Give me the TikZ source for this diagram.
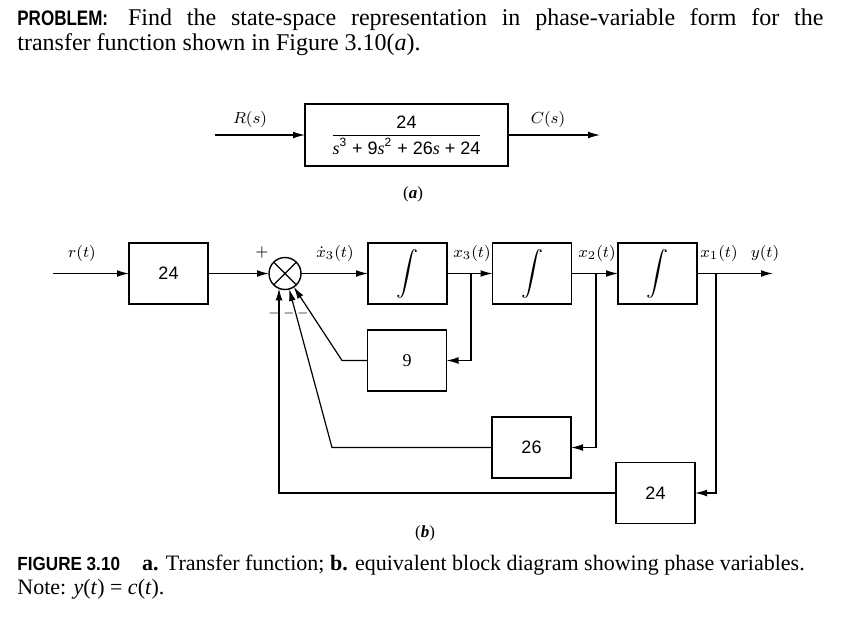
\documentclass[tikz,border=0pt]{standalone}
\usepackage{fontspec}
\usepackage{graphicx}
\setmainfont{Liberation Serif}
\setsansfont{Liberation Sans}
\usetikzlibrary{arrows.meta,positioning,calc}

\tikzset{
  blk/.style={draw,line width=0.9pt,minimum width=39.5pt,minimum height=30.5pt,
    inner sep=0pt,outer sep=0pt,font=\sffamily\fontsize{9}{11}\selectfont},
  lbl/.style={font=\fontsize{8.5}{10}\selectfont,inner sep=0pt},
  sig/.style={line width=0.6pt,-{Latex[length=6pt,width=3.4pt]}},
  line/.style={line width=0.6pt}
}
\newcommand{\intg}{\scalebox{1.1}{$\displaystyle\int$}}
\newcommand{\sv}{{\rmfamily\itshape s}}

\begin{document}
\begin{tikzpicture}[x=0.5pt,y=-0.5pt]
\useasboundingbox (0,0) rectangle (867,616);
% problem text
\node[anchor=base west,inner sep=0pt] (prob) at (17,25) {\parbox[t]{403pt}{\fontsize{12}{12.5}\selectfont
  \scalebox{0.81}[1]{\sffamily\bfseries\fontsize{10.5}{12.5}\selectfont PROBLEM:}\hspace{10pt}Find the state-space
  representation in phase-variable form for the\linebreak transfer function shown in Figure 3.10(\textit{a}).}};

% (a) transfer function
\node[blk,minimum width=101.5pt,minimum height=31pt] (tf) at (406.5,135)
  {\fontsize{9}{11}\selectfont$\displaystyle\frac{\mbox{\sffamily 24}}{\mbox{\sffamily\sv\textsuperscript{3} + 9\sv\textsuperscript{2} + 26\sv{} + 24}}$};
\coordinate (ain) at (215,135);
\coordinate (aout) at (600,135);
\draw[sig] (ain) -- (tf);
\draw[sig] (tf) -- (aout);
\node[lbl] (Rs) at (250,119) {$R(s)$};
\node[lbl] (Cs) at (548,119) {$C(s)$};
\node[lbl] (capa) at (413,194) {(\textbf{\textit{a}})};

% (b) phase variables
\node[blk] (b24) at (168.5,273.5) {24};
\node[circle,draw,line width=0.7pt,minimum size=16pt,inner sep=0pt,outer sep=0pt] (sum) at (285,273.5) {};
\draw[line] (sum.45) -- (sum.225) (sum.135) -- (sum.315);
\node[blk] (int1) at (407.5,273.5) {\intg};
\node[blk] (int2) at (532,273.5) {\intg};
\node[blk] (int3) at (657.5,273.5) {\intg};
\node[blk,font=\fontsize{9}{11}\selectfont] (b9) at (407,360.5) {9};
\node[blk] (b26) at (531.5,447.5) {26};
\node[blk] (b24f) at (655.5,493) {24};

\coordinate (rin) at (53,273.5);
\coordinate (yout) at (773,273.5);
\coordinate (p3) at (471,273.5);
\coordinate (p2) at (596,273.5);
\coordinate (p1) at (716,273.5);
\coordinate (k9) at (342,360.5);
\coordinate (k26) at (332,447.5);

\draw[sig] (rin) -- (b24);
\draw[sig] (b24) -- (sum);
\draw[sig] (sum) -- (int1);
\draw[sig] (int1) -- (int2);
\draw[sig] (int2) -- (int3);
\draw[sig] (int3) -- (yout);
\draw[sig] (p3) |- (b9);
\draw[sig] (p2) |- (b26);
\draw[sig] (p1) |- (b24f);
\draw[sig] (b9) -- (k9) -- (sum);
\draw[sig] (b26) -- (k26) -- (sum);
\draw[sig] (b24f) -| (sum.-112);

\node[lbl] (rt) at (82,253) {$r(t)$};
\node[lbl] (plus) at (262,252) {$+$};
\node[lbl,font=\fontsize{6.5}{8}\selectfont] (m1) at (274,313) {$-$};
\node[lbl,font=\fontsize{6.5}{8}\selectfont] (m2) at (289,313) {$-$};
\node[lbl,font=\fontsize{6.5}{8}\selectfont] (m3) at (303,313) {$-$};
\node[lbl] (dx3) at (335,253) {$\dot{x}_3(t)$};
\node[lbl] (x3) at (472,253) {$x_3(t)$};
\node[lbl] (x2) at (597,253) {$x_2(t)$};
\node[lbl] (x1) at (719,253) {$x_1(t)$};
\node[lbl] (yt) at (765,253) {$y(t)$};
\node[lbl] (capb) at (425,533) {(\textbf{\textit{b}})};

% caption
\node[anchor=base west,inner sep=0pt] (cap) at (17,570) {\parbox[t]{420pt}{\raggedright\fontsize{11}{12}\selectfont
  \scalebox{0.9}[1]{\sffamily\bfseries\fontsize{9.5}{12}\selectfont FIGURE 3.10}\hspace{11pt}\textbf{a.} Transfer function;
  \textbf{b.} equivalent block diagram showing phase variables.\\
  Note: \textit{y}(\textit{t}) = \textit{c}(\textit{t}).}};
\end{tikzpicture}
\end{document}
